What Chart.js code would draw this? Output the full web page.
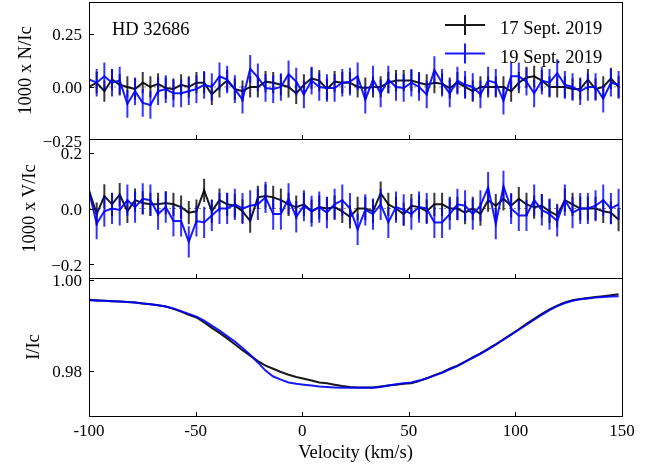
<!DOCTYPE html>
<html>
<head>
<meta charset="utf-8">
<script src="https://cdn.jsdelivr.net/npm/chart.js@4.4.1/dist/chart.umd.min.js"></script>
<style>
  body { margin: 0; background: #fff; }
  #wrap { position: relative; width: 657px; height: 468px; overflow: hidden; }
  canvas { position: absolute; left: 0; }
</style>
</head>
<body>
<div id="wrap">
  <canvas id="nChart" width="657" height="150" style="top:0px;width:657px;height:150px"></canvas>
  <canvas id="vChart" width="657" height="160" style="top:130px;width:657px;height:160px"></canvas>
  <canvas id="iChart" width="657" height="200" style="top:268px;width:657px;height:200px"></canvas>
</div>
<script>
// velocity grid (km/s)
const velocity = [-100, -96.4, -92.8, -89.2, -85.6, -82, -78.4, -74.8, -71.2, -67.6,
  -64, -60.4, -56.8, -53.2, -49.6, -46, -42.4, -38.8, -35.2, -31.6,
  -28, -24.4, -20.8, -17.2, -13.6, -10, -6.4, -2.8, 0.8, 4.4,
  8, 11.6, 15.2, 18.8, 22.4, 26, 29.6, 33.2, 36.8, 40.4,
  44, 47.6, 51.2, 54.8, 58.4, 62, 65.6, 69.2, 72.8, 76.4,
  80, 83.6, 87.2, 90.8, 94.4, 98, 101.6, 105.2, 108.8, 112.4,
  116, 119.6, 123.2, 126.8, 130.4, 134, 137.6, 141.2, 144.8, 148.4];

const seriesLabels = ['17 Sept. 2019', '19 Sept. 2019'];
const starName = 'HD 32686';

// 1000 x N/Ic
const nBlack = [0.00, 0.02, -0.02, 0.035, 0.01, 0.0, -0.01, 0.02, 0.0, 0.015,
  -0.005, -0.01, 0.01, 0.0, 0.02, 0.02, -0.035, 0.0, 0.03, -0.01,
  -0.02, 0.0, 0.0, 0.025, 0.02, 0.01, 0.0, -0.03, 0.01, 0.04,
  0.03, -0.01, 0.025, 0.02, 0.02, 0.0, -0.005, 0.0, 0.0, 0.02,
  0.03, 0.03, 0.03, 0.02, 0.01, 0.02, 0.015, -0.005, 0.02, 0.0,
  -0.02, 0.0, 0.0, 0.0, 0.0, -0.02, 0.02, 0.045, 0.05, 0.03,
  0.0, 0.0, 0.0, -0.01, -0.01, 0.035, -0.01, 0.0, 0.04, 0.0];
const nBlue = [0.035, 0.02, 0.05, 0.02, 0.03, -0.08, -0.02, -0.075, -0.085, -0.02,
  -0.01, -0.03, -0.03, -0.02, -0.01, 0.01, 0.0, 0.05, 0.035, -0.01,
  -0.06, 0.085, 0.045, -0.005, -0.01, 0.0, 0.06, 0.025, -0.035, 0.03,
  0.0, -0.005, -0.005, 0.02, 0.025, 0.05, -0.06, 0.035, -0.03, 0.035,
  0.0, -0.005, 0.02, 0.0, -0.035, 0.08, 0.02, -0.03, 0.03, 0.01,
  0.0, -0.035, 0.03, 0.02, -0.065, 0.05, 0.05, 0.025, -0.03, 0.03,
  0.02, 0.065, 0.01, 0.0, -0.02, 0.0, 0.0, -0.055, 0.02, 0.01];

// 1000 x V/Ic
const vBlack = [0.065, -0.02, 0.045, 0.015, 0.05, -0.01, 0.03, 0.02, 0.015, 0.015,
  0.02, 0.015, 0.005, -0.015, -0.01, 0.065, -0.01, 0.03, 0.015, 0.01,
  -0.01, -0.045, 0.04, 0.045, 0.04, 0.03, 0.015, 0.005, 0.015, -0.01,
  0.005, 0.0, 0.005, -0.01, -0.03, 0.0, 0.0, -0.01, 0.055, 0.015,
  0.0, -0.02, 0.01, 0.005, -0.01, 0.015, 0.015, 0.0, 0.0, -0.015,
  0.0, -0.02, 0.03, 0.01, 0.035, 0.01, 0.035, 0.015, 0.005, 0.01,
  -0.01, -0.025, 0.03, 0.015, 0.0, 0.0, 0.0, -0.01, -0.015, -0.04];
const vBlue = [0.06, -0.055, -0.01, 0.0, -0.005, 0.03, 0.005, 0.035, 0.03, -0.02,
  0.005, -0.045, -0.045, -0.12, -0.045, -0.05, -0.025, 0.0, 0.0, 0.015,
  0.0, 0.01, 0.015, 0.04, -0.02, -0.02, 0.035, -0.03, 0.01, -0.01,
  0.005, -0.015, 0.015, 0.03, 0.0, -0.075, -0.005, -0.02, 0.015, -0.05,
  0.005, -0.005, -0.02, 0.005, 0.0, -0.05, -0.05, -0.02, 0.015, 0.01,
  -0.02, 0.01, 0.075, -0.055, 0.08, 0.0, -0.025, -0.025, 0.03, -0.005,
  -0.02, -0.045, 0.03, -0.015, 0.0, 0.0, 0.01, 0.03, 0.0, 0.015];

// error bar half-lengths
const nErrBlack = 0.05;
const nErrBlue = 0.065;
const vErrBlack = 0.042;
const vErrBlue = 0.056;

// I/Ic
const iBlack = [0.9956, 0.9955, 0.9954, 0.9953, 0.9952, 0.9951, 0.9950, 0.9948, 0.9946, 0.9944,
  0.9941, 0.9936, 0.9930, 0.9923, 0.9917, 0.9906, 0.9894, 0.9883, 0.9871, 0.9858,
  0.9845, 0.9833, 0.9821, 0.9811, 0.9804, 0.9797, 0.9791, 0.9786, 0.9782, 0.9778,
  0.9774, 0.9772, 0.9769, 0.9766, 0.9764, 0.9763, 0.9763, 0.9763, 0.9765, 0.9767,
  0.9769, 0.9771, 0.9772, 0.9777, 0.9783, 0.9790, 0.9796, 0.9804, 0.9811, 0.9820,
  0.9829, 0.9838, 0.9848, 0.9858, 0.9869, 0.9880, 0.9891, 0.9903, 0.9914, 0.9925,
  0.9935, 0.9943, 0.9950, 0.9955, 0.9958, 0.9960, 0.9962, 0.9964, 0.9966, 0.9968];
const iBlue = [0.9955, 0.9954, 0.9954, 0.9953, 0.9952, 0.9951, 0.9950, 0.9948, 0.9946, 0.9944,
  0.9941, 0.9937, 0.9931, 0.9925, 0.9919, 0.9910, 0.9899, 0.9888, 0.9876, 0.9864,
  0.9850, 0.9835, 0.9818, 0.9800, 0.9787, 0.9780, 0.9774, 0.9771, 0.9769, 0.9767,
  0.9765, 0.9764, 0.9763, 0.9762, 0.9762, 0.9762, 0.9762, 0.9762, 0.9764, 0.9767,
  0.9770, 0.9772, 0.9774, 0.9778, 0.9783, 0.9789, 0.9795, 0.9803, 0.9810, 0.9819,
  0.9828, 0.9837, 0.9847, 0.9857, 0.9868, 0.9879, 0.9890, 0.9901, 0.9912, 0.9923,
  0.9933, 0.9942, 0.9949, 0.9954, 0.9957, 0.9959, 0.9961, 0.9962, 0.9963, 0.9964];

const xTicks = [-100, -50, 0, 50, 100, 150];
const xTickLabels = ['-100', '-50', '0', '50', '100', '150'];
const nTicks = [-0.25, 0, 0.25];
const nTickLabels = ['\u22120.25', '0.00', '0.25'];
const vTicks = [-0.2, 0, 0.2];
const vTickLabels = ['\u22120.2', '0.0', '0.2'];
const iTicks = [0.98, 1.00];
const iTickLabels = ['0.98', '1.00'];

const SERIF = "'Liberation Serif', 'Times New Roman', serif";
const colBlack = 'rgba(0,0,0,0.9)';
const colBlue = 'rgba(0,0,255,0.9)';
const barBlack = 'rgba(0,0,0,0.78)';
const barBlue = 'rgba(0,0,255,0.8)';

function pts(arr) {
  return velocity.map((v, i) => ({ x: v, y: arr[i] }));
}

const panelPlugin = {
  id: 'panel',
  beforeDatasetsDraw(chart, args, opts) {
    if (!opts.zeroLine) return;
    const { ctx, chartArea: a, scales } = chart;
    const y = scales.y.getPixelForValue(0);
    ctx.save();
    ctx.strokeStyle = '#888';
    ctx.lineWidth = 1;
    ctx.setLineDash([2, 3]);
    ctx.beginPath();
    ctx.moveTo(a.left, y);
    ctx.lineTo(a.right, y);
    ctx.stroke();
    ctx.restore();
  },
  beforeDatasetDraw(chart, args, opts) {
    if (!opts.errors) return;
    const err = opts.errors[args.index];
    const ds = chart.data.datasets[args.index];
    const { ctx, chartArea: a, scales } = chart;
    ctx.save();
    ctx.beginPath();
    ctx.rect(a.left, a.top, a.right - a.left, a.bottom - a.top);
    ctx.clip();
    ctx.strokeStyle = opts.barColors[args.index];
    ctx.lineWidth = 2;
    ctx.beginPath();
    ds.data.forEach(p => {
      const x = scales.x.getPixelForValue(p.x);
      ctx.moveTo(x, scales.y.getPixelForValue(p.y + err));
      ctx.lineTo(x, scales.y.getPixelForValue(p.y - err));
    });
    ctx.stroke();
    ctx.restore();
  },
  afterDraw(chart, args, opts) {
    const { ctx, chartArea: a, scales } = chart;
    ctx.save();
    ctx.strokeStyle = '#000';
    ctx.lineWidth = 1;
    ctx.strokeRect(Math.round(a.left) + 0.5, Math.round(a.top) + 0.5,
      Math.round(a.right - a.left), Math.round(a.bottom - a.top));
    // inner ticks
    ctx.beginPath();
    xTicks.forEach(v => {
      const x = Math.round(scales.x.getPixelForValue(v)) + 0.5;
      ctx.moveTo(x, a.bottom);
      ctx.lineTo(x, a.bottom - 4);
    });
    scales.y.ticks.forEach(t => {
      const y = Math.round(scales.y.getPixelForValue(t.value)) + 0.5;
      if (y < a.top || y > a.bottom) return;
      ctx.moveTo(a.left, y);
      ctx.lineTo(a.left + 5, y);
    });
    ctx.stroke();

    if (opts.annotate) {
      ctx.fillStyle = '#000';
      ctx.font = '18.5px ' + SERIF;
      ctx.textBaseline = 'alphabetic';
      ctx.fillText(starName, 112, 35);
      const entries = [[colBlack, 25], [colBlue, 53.5]];
      entries.forEach(([c, y], i) => {
        ctx.strokeStyle = c;
        ctx.lineWidth = 2;
        ctx.beginPath();
        ctx.moveTo(445, y);
        ctx.lineTo(485, y);
        ctx.moveTo(465, y - 10);
        ctx.lineTo(465, y + 10);
        ctx.stroke();
        ctx.fillStyle = '#000';
        ctx.fillText(seriesLabels[i], 500, y + 9);
      });
    }
    ctx.restore();
  }
};

function makePanel(id, cfg) {
  return new Chart(document.getElementById(id), {
    type: 'line',
    data: {
      datasets: [
        { label: seriesLabels[0], data: pts(cfg.black), borderColor: colBlack,
          borderWidth: cfg.lw, pointRadius: 0, tension: 0, order: 1 },
        { label: seriesLabels[1], data: pts(cfg.blue), borderColor: colBlue,
          borderWidth: cfg.lw, pointRadius: 0, tension: 0, order: 0 }
      ]
    },
    options: {
      responsive: false,
      animation: false,
      events: [],
      layout: { padding: { top: cfg.padTop, right: 35, left: 0, bottom: 0 } },
      plugins: {
        legend: { display: false },
        tooltip: { enabled: false },
        panel: cfg.panel
      },
      scales: {
        x: {
          type: 'linear',
          min: -100,
          max: 150,
          afterBuildTicks: s => { s.ticks = xTicks.map(v => ({ value: v })); },
          afterFit: s => { s.height = cfg.xHeight; s.paddingLeft = 0; s.paddingRight = 0; },
          grid: { display: false, drawTicks: false },
          border: { display: false },
          ticks: {
            display: cfg.showX,
            padding: 5,
            color: '#000',
            font: { family: SERIF, size: 17 },
            callback: (v, i) => xTickLabels[i]
          },
          title: {
            display: cfg.showX,
            text: 'Velocity (km/s)',
            color: '#000',
            font: { family: SERIF, size: 18.5 },
            padding: { top: 0, bottom: 4 }
          }
        },
        y: {
          min: cfg.ymin,
          max: cfg.ymax,
          afterBuildTicks: s => { s.ticks = cfg.ticks.map(v => ({ value: v })); },
          afterFit: s => { s.width = 89; s.paddingTop = 0; s.paddingBottom = 0; },
          grid: { display: false, drawTicks: false },
          border: { display: false },
          ticks: {
            padding: 7,
            labelOffset: 2,
            color: '#000',
            font: { family: SERIF, size: 17 },
            callback: (v, i) => cfg.tickLabels[i]
          },
          title: {
            display: true,
            text: cfg.title,
            color: '#000',
            font: { family: SERIF, size: 18.5 },
            padding: { top: cfg.titlePad, bottom: 0 }
          }
        }
      }
    },
    plugins: [panelPlugin]
  });
}

makePanel('nChart', {
  black: nBlack, blue: nBlue, lw: 2, padTop: 2, xHeight: 11, showX: false,
  ymin: -0.245, ymax: 0.40, ticks: nTicks, tickLabels: nTickLabels,
  title: '1000 x N/Ic', titlePad: 15,
  panel: { zeroLine: true, errors: [nErrBlack, nErrBlue], barColors: [barBlack, barBlue], annotate: true }
});
makePanel('vChart', {
  black: vBlack, blue: vBlue, lw: 2, padTop: 9, xHeight: 12, showX: false,
  ymin: -0.25, ymax: 0.25, ticks: vTicks, tickLabels: vTickLabels,
  title: '1000 x V/Ic', titlePad: 19,
  panel: { zeroLine: true, errors: [vErrBlack, vErrBlue], barColors: [barBlack, barBlue] }
});
makePanel('iChart', {
  black: iBlack, blue: iBlue, lw: 2, padTop: 10, xHeight: 52, showX: true,
  ymin: 0.970, ymax: 1.0004, ticks: iTicks, tickLabels: iTickLabels,
  title: 'I/Ic', titlePad: 23.5,
  panel: {}
});
</script>
</body>
</html>
